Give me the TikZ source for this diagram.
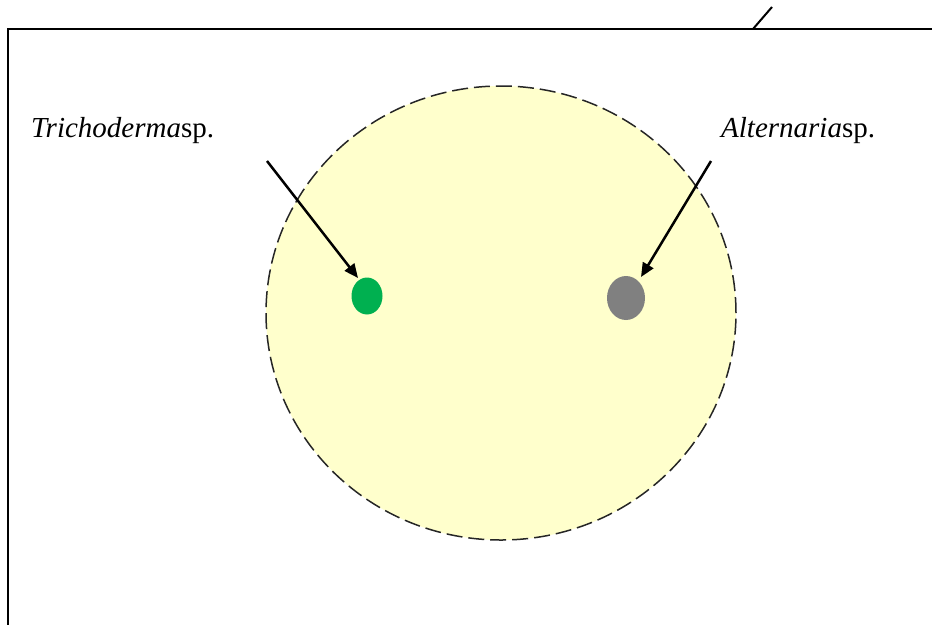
\documentclass[tikz,border=0pt]{standalone}
\usepackage{fontspec}
\setmainfont{Liberation Serif}
\usetikzlibrary{arrows.meta,shapes.geometric}
\definecolor{plate}{RGB}{255,255,204}
\definecolor{trich}{RGB}{0,176,80}
\definecolor{alt}{RGB}{128,128,128}
\begin{document}
\begin{tikzpicture}[x=1pt,y=-1pt,
  frame/.style={line width=2pt,black},
  pointer/.style={line width=2.5pt,-{Triangle[length=14pt,width=12pt]}},
  lbl/.style={font=\fontsize{29}{34}\selectfont,inner sep=0pt,anchor=base west}]
\useasboundingbox (0,0) rectangle (932,625);
\fill[white] (0,0) rectangle (932,625);
\coordinate (tl) at (8,29);
\coordinate (tr) at (932,29);
\coordinate (bl) at (8,625);
\draw[frame] (tr) -- (tl) -- (bl);
\coordinate (s1) at (753,29);
\coordinate (s2) at (772,7);
\draw[line width=2pt] (s1) -- (s2);
\node[draw=black!85,dashed,dash pattern=on 16pt off 6pt,line width=1.5pt,fill=plate,ellipse,minimum width=470pt,minimum height=454pt,inner sep=0pt] (dish) at (501,313) {};
\node[fill=trich,ellipse,minimum width=31pt,minimum height=37pt,inner sep=0pt] (tri) at (367,296) {};
\node[fill=alt,ellipse,minimum width=38pt,minimum height=44pt,inner sep=0pt] (alt) at (626,298) {};
\node[lbl] (tl1) at (31,137) {\textit{Trichoderma}sp.};
\node[lbl] (tl2) at (721,137) {\textit{Alternaria}sp.};
\coordinate (a1) at (267,161);
\coordinate (a2) at (711,161);
\draw[pointer] (a1) -- (358,278);
\draw[pointer] (a2) -- (641,277);
\end{tikzpicture}
\end{document}
